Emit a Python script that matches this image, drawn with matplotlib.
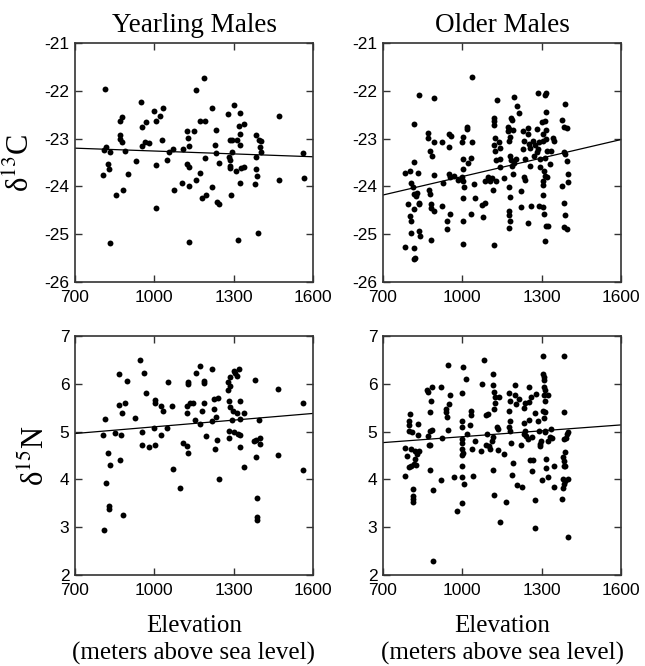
import numpy as np
import matplotlib
matplotlib.use("Agg")
import matplotlib.pyplot as plt

plt.rcParams['mathtext.fontset'] = 'stix'

# ---------------- data (elevation m, isotope value) ----------------
yearling_c = [
    (812, -21.97), (1188, -21.74), (1159, -21.99), (949, -22.23), (1470, -22.52), (1302, -22.29),
    (999, -22.42), (1034, -22.36), (1023, -22.53), (879, -22.55), (869, -22.63), (1005, -22.63),
    (970, -22.65), (955, -22.76), (1219, -22.36), (1280, -22.48), (1325, -22.46), (1173, -22.63),
    (1192, -22.63), (1124, -22.84), (1150, -22.84), (1233, -22.81), (1339, -22.70), (1319, -22.74),
    (1324, -22.90), (1126, -22.99), (1130, -23.16), (869, -22.93), (871, -23.00), (879, -23.07),
    (1028, -23.03), (963, -23.07), (980, -23.10), (955, -23.16), (819, -23.17), (811, -23.24),
    (834, -23.28), (889, -23.26), (1055, -23.27), (1070, -23.22), (1110, -23.21), (1229, -23.14),
    (1232, -23.31), (1285, -23.02), (1294, -23.03), (1314, -23.03), (1324, -23.14), (1295, -23.27),
    (1384, -22.93), (1394, -23.03), (1403, -23.05), (1399, -23.17), (1402, -23.27), (1383, -23.38),
    (1190, -23.41), (1281, -23.38), (1285, -23.45), (1564, -23.30), (929, -23.47), (1049, -23.44),
    (1005, -23.56), (823, -23.54), (828, -23.63), (805, -23.76), (899, -23.74), (1123, -23.53),
    (1132, -23.59), (1245, -23.52), (1288, -23.57), (1285, -23.62), (1307, -23.68), (1327, -23.61),
    (1340, -23.59), (1384, -23.64), (1174, -23.71), (1156, -23.87), (1103, -23.93), (1130, -24.00),
    (1074, -24.07), (882, -24.07), (854, -24.17), (1219, -24.02), (1324, -23.92), (1290, -24.19),
    (1379, -23.95), (1389, -23.78), (1472, -23.86), (1567, -23.82), (1194, -24.19), (1180, -24.25),
    (1238, -24.33), (1246, -24.36), (1005, -24.46), (831, -25.18), (1131, -25.17), (1317, -25.12),
    (1391, -24.97),
]

older_c = [
    (784, -23.71), (784, -25.27), (803, -23.67), (806, -23.92), (796, -24.37), (802, -24.62),
    (806, -24.72), (807, -24.97), (816, -25.29), (816, -25.52), (822, -25.49), (816, -22.70),
    (816, -23.48), (815, -24.02), (819, -24.16), (829, -24.13), (832, -23.73), (835, -22.09),
    (816, -24.48), (837, -24.34), (838, -24.37), (837, -24.93), (840, -25.04), (826, -24.20),
    (870, -22.89), (871, -22.99), (879, -23.26), (884, -23.36), (892, -22.15), (892, -23.08),
    (892, -23.76), (875, -24.08), (879, -24.16), (881, -24.37), (881, -24.46), (881, -25.12),
    (892, -24.51), (922, -23.08), (922, -24.41), (927, -23.92), (942, -24.72), (942, -24.90),
    (950, -22.91), (957, -22.94), (949, -23.17), (950, -23.74), (954, -23.81), (952, -24.57),
    (967, -23.78), (982, -23.87), (1000, -23.08), (1004, -22.96), (1003, -23.43), (1003, -23.63),
    (999, -23.81), (1004, -23.88), (1008, -24.02), (1001, -24.25), (1003, -24.72), (1004, -25.21),
    (1018, -22.75), (1018, -22.80), (1020, -23.50), (1037, -21.71), (1037, -23.07), (1032, -23.40),
    (1032, -24.57), (1043, -23.95), (1047, -24.25), (1074, -24.39), (1086, -24.35), (1079, -24.65),
    (1086, -23.88), (1096, -23.81), (1103, -23.88), (1111, -23.83), (1118, -25.22), (1117, -24.08),
    (1121, -22.56), (1121, -22.63), (1121, -22.71), (1124, -22.98), (1121, -23.13), (1125, -23.26),
    (1126, -23.44), (1129, -23.88), (1131, -22.20), (1140, -23.08), (1141, -23.19), (1144, -23.43),
    (1144, -23.60), (1159, -23.83), (1174, -22.75), (1175, -22.80), (1174, -22.85), (1180, -22.96),
    (1178, -23.05), (1180, -23.36), (1183, -23.45), (1177, -24.02), (1180, -24.23), (1178, -24.51),
    (1177, -24.60), (1182, -24.72), (1177, -24.88), (1184, -22.56), (1187, -22.61), (1188, -23.58),
    (1190, -23.74), (1190, -22.82), (1197, -22.14), (1196, -23.50), (1203, -23.43), (1208, -22.31),
    (1216, -22.47), (1220, -24.09), (1222, -24.44), (1231, -22.84), (1233, -23.05), (1231, -23.22),
    (1233, -23.81), (1238, -23.87), (1237, -23.43), (1247, -22.78), (1250, -22.91), (1251, -23.12),
    (1254, -23.57), (1248, -24.76), (1257, -23.19), (1261, -24.41), (1267, -23.05), (1272, -23.36),
    (1276, -23.13), (1281, -22.80), (1285, -22.05), (1282, -23.29), (1287, -23.22), (1289, -24.41),
    (1292, -23.59), (1294, -23.43), (1290, -23.08), (1300, -22.66), (1304, -22.91), (1305, -23.05),
    (1305, -23.88), (1305, -23.97), (1306, -24.18), (1306, -24.44), (1309, -24.58), (1311, -25.14),
    (1309, -23.67), (1312, -22.09), (1318, -22.05), (1317, -22.45), (1314, -22.63), (1316, -22.82),
    (1318, -23.01), (1321, -23.26), (1314, -23.78), (1321, -23.81), (1318, -24.83), (1324, -24.83),
    (1314, -23.41), (1333, -23.54), (1337, -23.26), (1344, -22.98), (1347, -23.05), (1388, -22.27),
    (1377, -22.61), (1385, -22.75), (1394, -22.78), (1389, -23.33), (1395, -23.47), (1398, -23.74),
    (1398, -23.90), (1377, -24.00), (1383, -24.34), (1388, -24.60), (1385, -24.85), (1395, -24.90),
    (1385, -23.28),
]

yearling_n = [
    (947, 6.50), (868, 6.21), (962, 6.23), (897, 6.06), (1052, 6.04), (1127, 6.04), (1128, 6.00),
    (1157, 6.22), (1172, 6.38), (1186, 6.06), (1189, 6.02), (1218, 6.31), (1277, 6.04), (1287, 6.15),
    (1300, 6.27), (1305, 6.22), (1311, 6.16), (1322, 6.31), (1277, 5.88), (1287, 5.95), (1382, 6.08),
    (1469, 5.90), (1563, 5.60), (967, 5.80), (1002, 5.67), (1004, 5.60), (1025, 5.53), (1031, 5.43),
    (1067, 5.54), (866, 5.56), (888, 5.60), (877, 5.38), (812, 5.27), (926, 5.29), (998, 5.08),
    (1049, 5.07), (1123, 5.53), (1136, 5.59), (1146, 5.60), (1122, 5.39), (1154, 5.25), (1174, 5.15),
    (1179, 5.43), (1189, 5.60), (1227, 5.69), (1239, 5.71), (1227, 5.48), (1234, 5.31), (1218, 5.23),
    (1282, 5.64), (1323, 5.64), (1287, 5.52), (1298, 5.43), (1312, 5.39), (1340, 5.39), (1325, 5.27),
    (1292, 5.25), (1394, 5.24), (804, 4.92), (852, 4.97), (874, 4.92), (954, 4.99), (1024, 4.92),
    (1194, 4.90), (1281, 5.02), (1303, 4.99), (1315, 4.95), (1324, 4.92), (1281, 4.86), (1237, 4.82),
    (1376, 4.80), (1386, 4.83), (1399, 4.87), (1399, 4.74), (953, 4.71), (978, 4.67), (1002, 4.71),
    (1108, 4.76), (1123, 4.69), (1128, 4.56), (1229, 4.64), (1324, 4.68), (824, 4.55), (869, 4.40),
    (834, 4.31), (1386, 4.46), (1469, 4.52), (1069, 4.22), (1340, 4.26), (1564, 4.19), (818, 3.92),
    (1098, 3.83), (1244, 4.01), (830, 3.45), (830, 3.38), (880, 3.25), (811, 2.94), (1390, 3.61),
    (1387, 3.21), (1387, 3.15),
]

older_n = [
    (782, 4.65), (791, 4.48), (782, 4.07), (801, 5.37), (797, 5.23), (800, 5.13), (797, 5.02),
    (810, 5.00), (804, 4.64), (800, 4.25), (807, 4.29), (813, 3.80), (813, 3.66), (813, 3.59),
    (813, 3.52), (822, 4.59), (820, 4.43), (826, 4.30), (829, 4.53), (835, 4.59), (833, 5.16),
    (833, 4.92), (818, 4.32), (867, 5.87), (870, 5.83), (886, 5.94), (881, 5.64), (878, 5.41),
    (876, 5.02), (884, 5.03), (871, 4.90), (873, 4.71), (878, 4.72), (877, 4.20), (890, 3.78),
    (890, 2.29), (918, 5.93), (918, 3.99), (924, 4.86), (947, 6.40), (937, 5.48), (937, 5.41),
    (943, 5.31), (947, 5.03), (953, 5.77), (950, 5.58), (968, 4.06), (981, 3.33), (1000, 5.80),
    (1003, 6.36), (1013, 6.10), (998, 5.23), (1000, 5.09), (998, 4.84), (1000, 4.76), (1000, 4.64),
    (1003, 4.56), (1000, 4.51), (1000, 4.29), (1000, 4.06), (1006, 3.90), (1000, 3.50), (1017, 4.95),
    (1032, 5.43), (1032, 5.34), (1029, 5.13), (1035, 4.64), (1042, 4.08), (1048, 4.81), (1082, 6.49),
    (1073, 6.00), (1072, 4.60), (1089, 5.35), (1097, 5.36), (1089, 4.71), (1093, 4.94), (1102, 4.69),
    (1106, 4.64), (1116, 6.20), (1116, 5.97), (1120, 5.83), (1123, 5.73), (1124, 5.59), (1120, 5.48),
    (1116, 4.88), (1114, 4.81), (1116, 4.20), (1118, 3.67), (1130, 5.09), (1136, 5.06), (1133, 4.62),
    (1139, 5.72), (1143, 3.10), (1158, 4.53), (1165, 3.52), (1177, 5.80), (1180, 5.65), (1177, 5.44),
    (1180, 5.23), (1177, 5.09), (1180, 5.02), (1184, 4.76), (1188, 4.10), (1193, 4.34), (1198, 5.97),
    (1200, 5.76), (1202, 5.58), (1207, 3.89), (1216, 5.68), (1226, 3.85), (1222, 4.73), (1234, 5.49),
    (1236, 5.59), (1235, 5.17), (1236, 5.02), (1233, 4.95), (1241, 4.90), (1249, 4.85), (1251, 5.62),
    (1252, 5.94), (1252, 5.24), (1254, 4.41), (1259, 5.72), (1262, 4.18), (1266, 4.41), (1264, 4.88),
    (1275, 5.38), (1276, 3.57), (1276, 2.99), (1278, 5.79), (1285, 5.22), (1289, 5.02), (1292, 4.74),
    (1292, 4.69), (1298, 4.81), (1301, 3.99), (1304, 6.59), (1304, 6.21), (1307, 6.14), (1309, 6.07),
    (1308, 5.93), (1311, 5.86), (1307, 5.76), (1311, 5.64), (1304, 5.44), (1311, 5.41), (1307, 5.29),
    (1311, 5.02), (1314, 4.99), (1317, 4.24), (1317, 4.43), (1323, 4.06), (1323, 5.76), (1323, 4.81),
    (1330, 4.88), (1336, 5.06), (1340, 4.87), (1348, 4.29), (1348, 3.85), (1386, 6.59), (1386, 5.42),
    (1377, 3.59), (1386, 4.85), (1392, 4.87), (1395, 4.95), (1398, 4.99), (1390, 4.57), (1382, 4.46),
    (1386, 4.39), (1384, 4.29), (1390, 4.27), (1382, 4.01), (1390, 3.97), (1398, 4.01), (1386, 3.90),
    (1379, 3.83), (1400, 2.80),
]

# regression lines: value at 700 m and 1600 m
fit_x = [700, 1600]
yearling_c_fit = [-23.20, -23.38]
older_c_fit = [-24.18, -23.02]
yearling_n_fit = [4.96, 5.38]
older_n_fit = [4.77, 5.14]

x_ticks = [700, 1000, 1300, 1600]
c_ticks = [-21, -22, -23, -24, -25, -26]
n_ticks = [2, 3, 4, 5, 6, 7]

titles = ["Yearling Males", "Older Males"]
ylabel_c = "δ$^{13}$C"
ylabel_n = "δ$^{15}$N"
xlabel = "Elevation\n(meters above sea level)"

# ---------------- figure ----------------
W, H = 645, 666
fig = plt.figure(figsize=(W / 100, H / 100), dpi=100)

lefts = [75 / W, 383 / W]
width = 238 / W
bottoms = [1 - 282 / H, 1 - 575 / H]
height = 239 / H

serif = 'Liberation Serif'
sans = 'Liberation Sans'

panels = [
    (0, 0, yearling_c, yearling_c_fit, (-26, -21), c_ticks),
    (0, 1, older_c, older_c_fit, (-26, -21), c_ticks),
    (1, 0, yearling_n, yearling_n_fit, (2, 7), n_ticks),
    (1, 1, older_n, older_n_fit, (2, 7), n_ticks),
]

for row, col, pts, fit, ylim, yt in panels:
    ax = fig.add_axes([lefts[col], bottoms[row], width, height])
    arr = np.array(pts)
    ax.scatter(arr[:, 0], arr[:, 1], s=18, c='black', linewidths=0, zorder=3)
    ax.plot(fit_x, fit, color='black', lw=0.9, zorder=2)
    ax.set_xlim(700, 1600)
    ax.set_ylim(*ylim)
    ax.set_xticks(x_ticks)
    ax.set_yticks(yt)
    ax.set_xticklabels([str(t) for t in x_ticks], fontfamily=sans, fontsize=12.5)
    ax.set_yticklabels([str(t) for t in yt], fontfamily=sans, fontsize=12.5)
    ax.tick_params(direction='in', top=True, right=True, length=5, width=1.0,
                   color='#333333')
    ax.tick_params(axis='y', pad=4)
    ax.tick_params(axis='x', pad=6)
    for sp in ax.spines.values():
        sp.set_linewidth(1.2)
        sp.set_color('#333333')
    if row == 0:
        ax.set_title(titles[col], fontfamily=serif, fontsize=19.5, pad=8)
    if col == 0:
        ax.set_ylabel(ylabel_c if row == 0 else ylabel_n, fontfamily=serif,
                      fontsize=22, labelpad=6)
    if row == 1:
        ax.set_xlabel(xlabel, fontfamily=serif, fontsize=18, labelpad=12,
                      linespacing=1.3)

fig.savefig("out.png", dpi=100)
